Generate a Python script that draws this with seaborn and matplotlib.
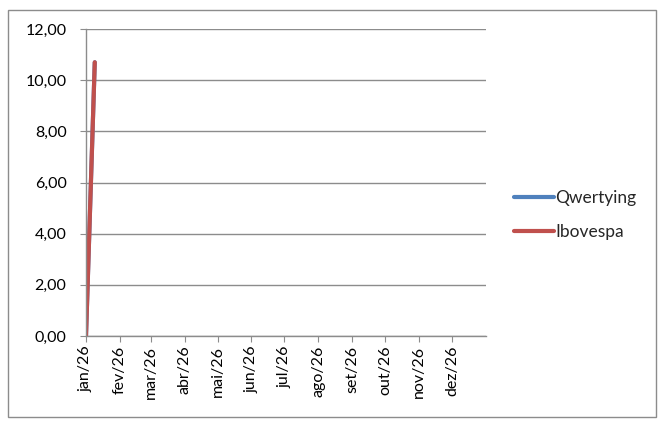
import seaborn as sns
import pandas as pd
import matplotlib.pyplot as plt
from matplotlib.ticker import FuncFormatter
from matplotlib.patches import Rectangle

# data
dates = ["2026-01-01", "2026-01-09"]
qwertying = [0.0, 10.7]
ibovespa = [0.0, 10.7]
month_ticks = pd.date_range("2026-01-01", "2026-12-01", freq="MS")
month_labels = ["jan/26", "fev/26", "mar/26", "abr/26", "mai/26", "jun/26",
                "jul/26", "ago/26", "set/26", "out/26", "nov/26", "dez/26"]
y_ticks = [0, 2, 4, 6, 8, 10, 12]

df = pd.DataFrame({
    "data": pd.to_datetime(dates * 2),
    "valor": qwertying + ibovespa,
    "serie": ["Qwertying"] * len(dates) + ["Ibovespa"] * len(dates),
})

sns.set_style("white")
plt.rcParams['font.family'] = ['Lato', 'DejaVu Sans']

fig = plt.figure(figsize=(6.64, 4.26), dpi=100)
ax = fig.add_axes([86/664, 90/426, 400/664, 307/426])

sns.lineplot(data=df, x="data", y="valor", hue="serie",
             hue_order=["Qwertying", "Ibovespa"],
             palette={"Qwertying": "#4F81BD", "Ibovespa": "#C0504D"},
             linewidth=3.0, ax=ax, legend=False)

ax.set_xlim(pd.Timestamp("2026-01-01"), pd.Timestamp("2027-01-01"))
ax.set_ylim(0, 12)
ax.set_yticks(y_ticks)
ax.yaxis.set_major_formatter(FuncFormatter(lambda v, p: f"{v:.2f}".replace(".", ",")))
ax.set_xticks(month_ticks)
ax.set_xticklabels(month_labels, rotation=90)
ax.set_xlabel("")
ax.set_ylabel("")

ax.grid(axis="y", color="#8c8c8c", linewidth=1)
ax.set_axisbelow(True)
for s in ["top", "right"]:
    ax.spines[s].set_visible(False)
for s in ["left", "bottom"]:
    ax.spines[s].set_color("#8c8c8c")
    ax.spines[s].set_linewidth(1)
ax.tick_params(axis="both", which="both", direction="out", length=4,
               color="#8c8c8c", labelsize=11.5, labelcolor="black",
               bottom=True, left=True)
ax.tick_params(axis="y", pad=10)
ax.tick_params(axis="x", pad=3)

handles = [plt.Line2D([], [], color="#4F81BD", linewidth=3.0),
           plt.Line2D([], [], color="#C0504D", linewidth=3.0)]
fig.legend(handles, ["Qwertying", "Ibovespa"], loc="center left",
           bbox_to_anchor=(498/664, 1 - 215/426), frameon=False,
           fontsize=12.5, handlelength=2.3, handletextpad=0.1,
           labelspacing=1.0)

fig.patches.append(Rectangle((8/664, 9/426), 648/664, 407/426,
                             transform=fig.transFigure, fill=False,
                             edgecolor="#8c8c8c", linewidth=1))

fig.savefig("out.png", dpi=100)
